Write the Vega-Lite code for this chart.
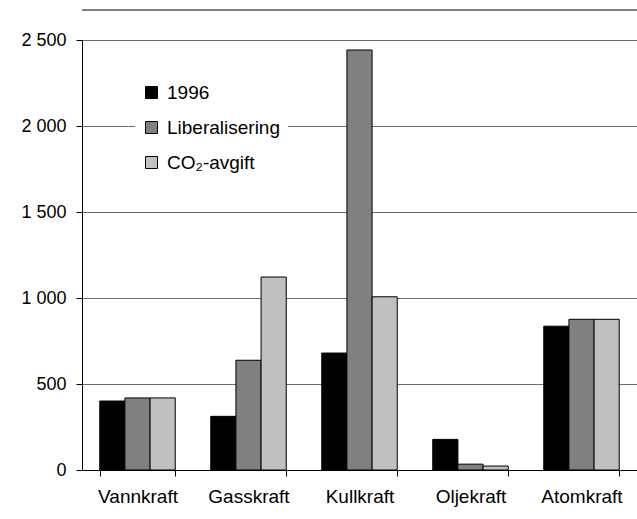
{
  "$schema": "https://vega.github.io/schema/vega-lite/v6.json",
  "width": 555,
  "height": 430,
  "autosize": "none",
  "padding": {"left": 82, "top": 40, "right": 0, "bottom": 49},
  "background": "white",
  "config": {
    "view": {"stroke": null},
    "font": "Liberation Sans",
    "axis": {"labelFont": "Liberation Sans", "labelColor": "black"}
  },
  "data": {
    "values": [
      {"type": "Vannkraft", "scenario": "1996", "value": 401},
      {"type": "Vannkraft", "scenario": "Liberalisering", "value": 419},
      {"type": "Vannkraft", "scenario": "CO₂-avgift", "value": 419},
      {"type": "Gasskraft", "scenario": "1996", "value": 312},
      {"type": "Gasskraft", "scenario": "Liberalisering", "value": 638},
      {"type": "Gasskraft", "scenario": "CO₂-avgift", "value": 1122},
      {"type": "Kullkraft", "scenario": "1996", "value": 680},
      {"type": "Kullkraft", "scenario": "Liberalisering", "value": 2442},
      {"type": "Kullkraft", "scenario": "CO₂-avgift", "value": 1007},
      {"type": "Oljekraft", "scenario": "1996", "value": 178},
      {"type": "Oljekraft", "scenario": "Liberalisering", "value": 34},
      {"type": "Oljekraft", "scenario": "CO₂-avgift", "value": 23},
      {"type": "Atomkraft", "scenario": "1996", "value": 836},
      {"type": "Atomkraft", "scenario": "Liberalisering", "value": 876},
      {"type": "Atomkraft", "scenario": "CO₂-avgift", "value": 876}
    ]
  },
  "layer": [
    {
      "mark": {"type": "bar", "stroke": "black", "strokeWidth": 1},
      "encoding": {
        "x": {
          "field": "type",
          "type": "nominal",
          "sort": ["Vannkraft", "Gasskraft", "Kullkraft", "Oljekraft", "Atomkraft"],
          "scale": {"paddingInner": 0.32, "paddingOuter": 0.16},
          "axis": {
            "title": null,
            "labelAngle": 0,
            "labelFontSize": 19,
            "labelPadding": 11,
            "tickBand": "extent",
            "ticks": true,
            "tickSize": 6,
            "tickWidth": 1,
            "tickColor": "black",
            "domainColor": "black",
            "grid": false
          }
        },
        "xOffset": {
          "field": "scenario",
          "type": "nominal",
          "sort": ["1996", "Liberalisering", "CO₂-avgift"],
          "scale": {"paddingInner": 0, "paddingOuter": 0}
        },
        "y": {
          "field": "value",
          "type": "quantitative",
          "scale": {"domain": [0, 2500], "nice": false},
          "axis": {
            "title": null,
            "values": [0, 500, 1000, 1500, 2000, 2500],
            "labelExpr": "replace(format(datum.value, ','), ',', ' ')",
            "labelFontSize": 18,
            "labelPadding": 10,
            "tickSize": 6,
            "tickColor": "black",
            "domainColor": "black",
            "grid": true,
            "gridColor": "#6e6e6e",
            "gridOpacity": 1
          }
        },
        "color": {
          "field": "scenario",
          "type": "nominal",
          "sort": ["1996", "Liberalisering", "CO₂-avgift"],
          "scale": {"domain": ["1996", "Liberalisering", "CO₂-avgift"], "range": ["#000000", "#808080", "#c0c0c0"]},
          "legend": {
            "title": null,
            "orient": "none",
            "legendX": 53,
            "legendY": 36,
            "fillColor": "white",
            "padding": 7,
            "symbolType": "square",
            "symbolSize": 144,
            "symbolStrokeColor": "black",
            "symbolStrokeWidth": 1,
            "symbolOpacity": 1,
            "labelFontSize": 19,
            "labelColor": "black",
            "labelOffset": 6,
            "rowPadding": 15
          }
        }
      }
    },
    {
      "mark": {"type": "rule", "color": "#808080", "strokeWidth": 1.5, "clip": false},
      "encoding": {"y": {"datum": 2674}}
    }
  ]
}
